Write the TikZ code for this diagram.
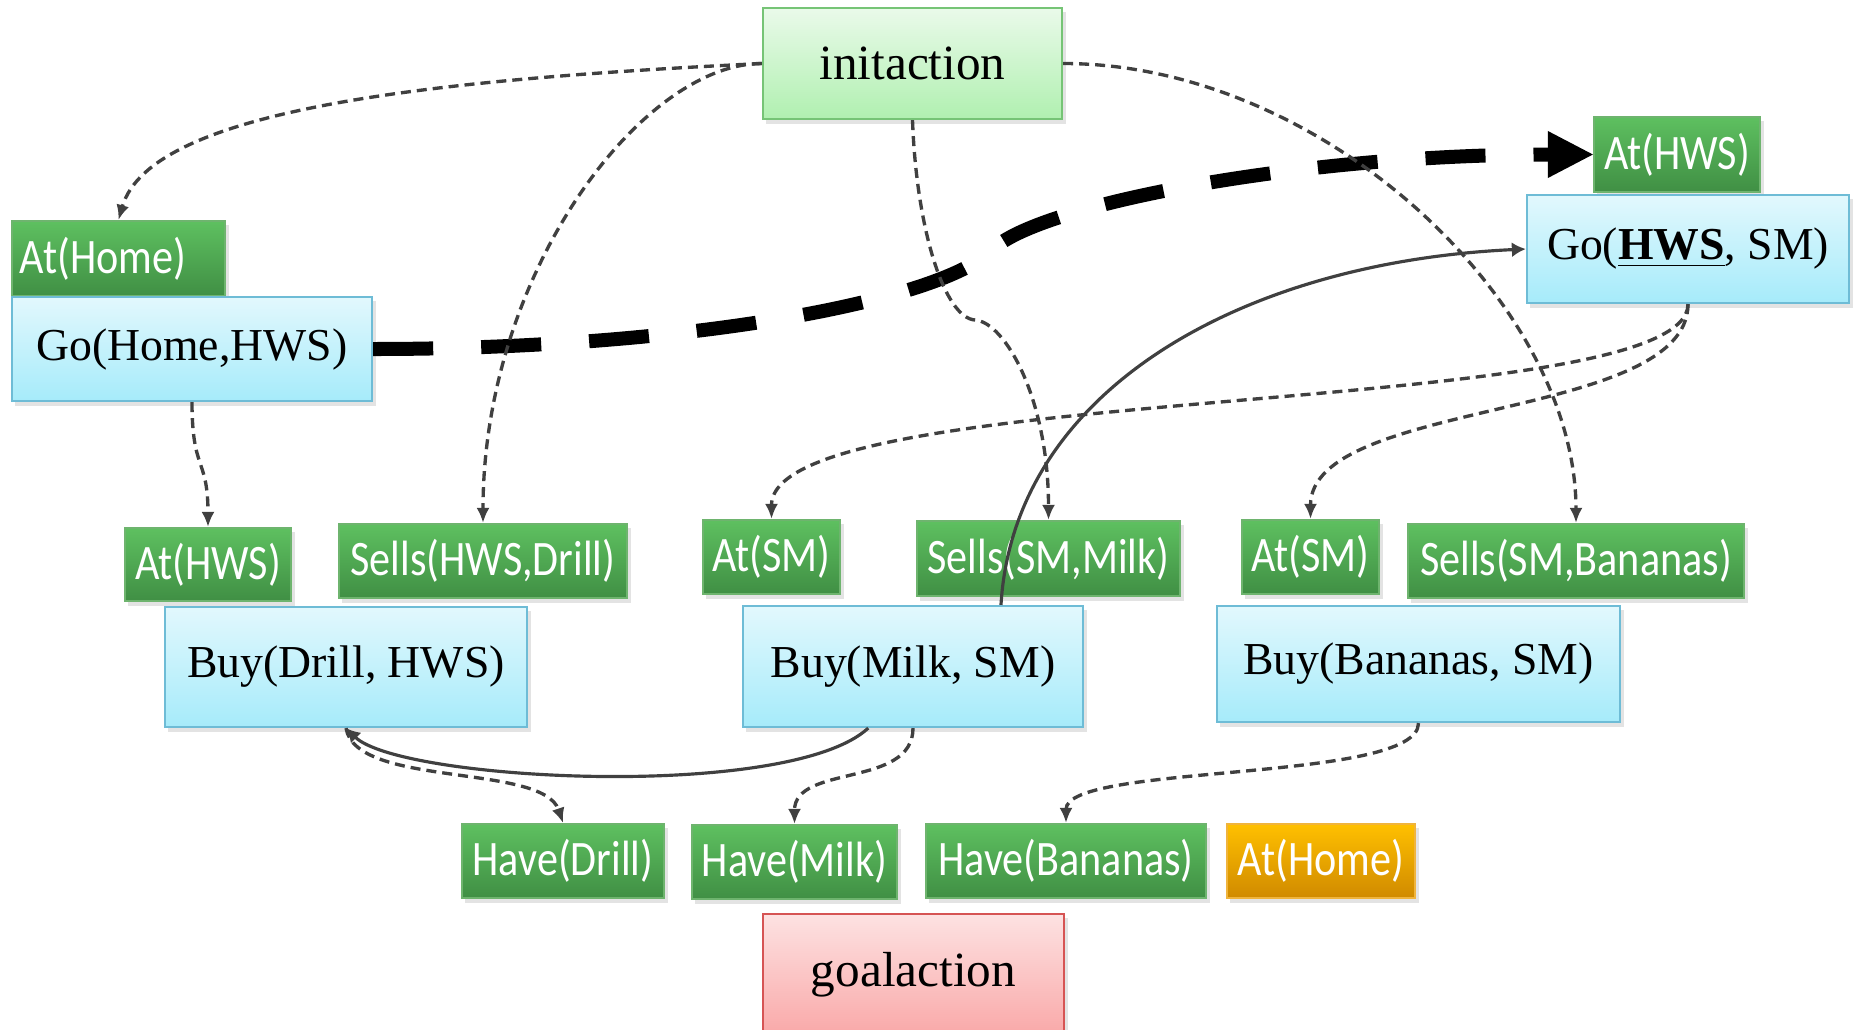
\documentclass[tikz,border=0pt]{standalone}
\usepackage{fontspec}
\setmainfont{Liberation Serif}
\newfontfamily\condfont[FakeStretch=0.85]{Carlito}
\usepackage{xcolor}
\definecolor{facttop}{RGB}{94, 192, 96}
\definecolor{factbot}{RGB}{64, 143, 68}
\definecolor{factline}{RGB}{110, 180, 110}
\definecolor{acttop}{RGB}{226, 248, 253}
\definecolor{actbot}{RGB}{166, 235, 250}
\definecolor{actline}{RGB}{110, 188, 214}
\definecolor{inittop}{RGB}{234, 250, 234}
\definecolor{initbot}{RGB}{176, 240, 176}
\definecolor{initline}{RGB}{118, 196, 118}
\definecolor{goaltop}{RGB}{253, 226, 226}
\definecolor{goalbot}{RGB}{249, 168, 168}
\definecolor{goalline}{RGB}{214, 84, 84}
\definecolor{opentop}{RGB}{255, 192, 0}
\definecolor{openbot}{RGB}{208, 138, 0}
\definecolor{openline}{RGB}{240, 180, 60}
\definecolor{linkgray}{RGB}{64, 64, 64}
\usepackage{tikz}
\usetikzlibrary{arrows.meta,shadows}

\tikzset{
  box/.style={line width=0.6pt, inner sep=0pt,
    drop shadow={opacity=0.22, shadow xshift=0.035cm, shadow yshift=-0.045cm}},
  fact/.style={box, top color=facttop, bottom color=factbot, draw=factline,
    text=white, font=\condfont\fontsize{14.1}{16}\selectfont},
  openfact/.style={fact, top color=opentop, bottom color=openbot, draw=openline},
  act/.style={box, top color=acttop, bottom color=actbot, draw=actline,
    font=\fontsize{13}{15}\selectfont},
  initbox/.style={box, top color=inittop, bottom color=initbot, draw=initline,
    font=\fontsize{14}{16}\selectfont},
  goalbox/.style={box, top color=goaltop, bottom color=goalbot, draw=goalline,
    font=\fontsize{14}{16}\selectfont},
  link/.style={draw=linkgray, line width=0.95pt, dash pattern=on 0.1cm off 0.06cm,
    -{Latex[length=0.15cm,width=0.13cm]}},
  causal/.style={draw=linkgray, line width=0.9pt,
    -{Latex[length=0.14cm,width=0.15cm]}},
  threat/.style={draw=black, line width=0.14cm, dash pattern=on 0.6cm off 0.48cm,
    -{Triangle[length=0.45cm,width=0.47cm,line width=0pt]}},
}

\begin{document}
\begin{tikzpicture}[x=0.01cm, y=0.01cm]
  \path[use as bounding box, fill=white] (0,0) rectangle (1854,-1030);

  % start and finish
  \node[initbox, minimum width=2.99cm, minimum height=1.11cm] (init) at (912.5,-63.5) {initaction};
  \node[goalbox, minimum width=3.01cm, minimum height=1.22cm] (goal) at (913.5,-975) {goalaction};

  % first moves
  \node[fact, minimum width=2.13cm, minimum height=0.75cm, text width=1.97cm, align=left]
    (athomeA) at (118.5,-258.5) {At(Home)};
  \node[act, minimum width=3.60cm, minimum height=1.04cm] (gohome) at (192,-349) {Go(Home,HWS)};
  \node[fact, minimum width=1.66cm, minimum height=0.75cm] (athwsA) at (1677,-154.5) {At(HWS)};
  \node[act, minimum width=3.22cm, minimum height=1.08cm] (gohws) at (1688,-249)
    {Go(\textbf{\underline{HWS}}, SM)};

  % preconditions of the buys
  \node[fact, minimum width=1.66cm, minimum height=0.73cm] (athwsB) at (208,-564.5) {At(HWS)};
  \node[fact, minimum width=2.88cm, minimum height=0.74cm] (sellsdrill) at (483,-561) {Sells(HWS,Drill)};
  \node[fact, minimum width=1.37cm, minimum height=0.74cm] (atsmA) at (771.5,-557) {At(SM)};
  \node[fact, minimum width=2.63cm, minimum height=0.75cm] (sellsmilk) at (1048.5,-558.5) {Sells(SM,Milk)};
  \node[fact, minimum width=1.37cm, minimum height=0.74cm] (atsmB) at (1310.5,-557) {At(SM)};
  \node[fact, minimum width=3.36cm, minimum height=0.74cm] (sellsban) at (1576,-561) {Sells(SM,Bananas)};

  % buy actions
  \node[act, minimum width=3.62cm, minimum height=1.20cm] (buydrill) at (346,-667) {Buy(Drill, HWS)};
  \node[act, minimum width=3.40cm, minimum height=1.21cm] (buymilk) at (913,-666.5) {Buy(Milk, SM)};
  \node[act, minimum width=4.03cm, minimum height=1.16cm] (buyban) at (1418.5,-664) {Buy(Bananas, SM)};

  % goal conditions
  \node[fact, minimum width=2.02cm, minimum height=0.74cm] (havedrill) at (563,-861) {Have(Drill)};
  \node[fact, minimum width=2.05cm, minimum height=0.74cm] (havemilk) at (794.5,-862) {Have(Milk)};
  \node[fact, minimum width=2.80cm, minimum height=0.74cm] (haveban) at (1066,-861) {Have(Bananas)};
  \node[openfact, minimum width=1.88cm, minimum height=0.74cm] (athomeB) at (1321,-861) {At(Home)};

  % the threatening move
  \coordinate (bend) at (992,-250);
  \draw[threat] (gohome.east) .. controls +(320,0) and +(-50,-50) .. (bend)
    .. controls +(45,45) and +(-294,0) .. (athwsA.west);

  % causal links
  \coordinate (kink) at (975,-320);
  \draw[link] (init.west) .. controls +(-330,-16) and +(32,111) .. (athomeA.north);
  \draw[link] (init.west) .. controls +(-120,0) and +(0,250) .. (sellsdrill.north);
  \draw[link] (init.south) .. controls +(4,-111) and +(-30,2) .. (kink)
    .. controls +(30,-2) and +(0,121) .. (sellsmilk.north);
  \draw[link] (init.east) .. controls +(260,0) and +(0,220) .. (sellsban.north);
  \draw[link] (gohome.south) .. controls +(0,-70) and +(0,70) .. (athwsB.north);
  \draw[link] (gohws.south) .. controls +(0,-117) and +(0,140) .. (atsmA.north);
  \draw[link] (gohws.south) .. controls +(0,-117) and +(0,120) .. (atsmB.north);
  \draw[link] (buydrill.south) .. controls +(10,-60) and +(-20,60) .. (havedrill.north);
  \draw[link] (buymilk.south) .. controls +(0,-60) and +(0,60) .. (havemilk.north);
  \draw[link] (buyban.south) .. controls +(0,-60) and +(0,60) .. (haveban.north);

  % ordering constraints
  \draw[causal] (buymilk.35) .. controls +(13,216) and +(-282,-13) .. (gohws.west);
  \draw[causal] (buymilk.234) .. controls +(-79,-73) and +(54,-53) .. (buydrill.south);
\end{tikzpicture}
\end{document}
